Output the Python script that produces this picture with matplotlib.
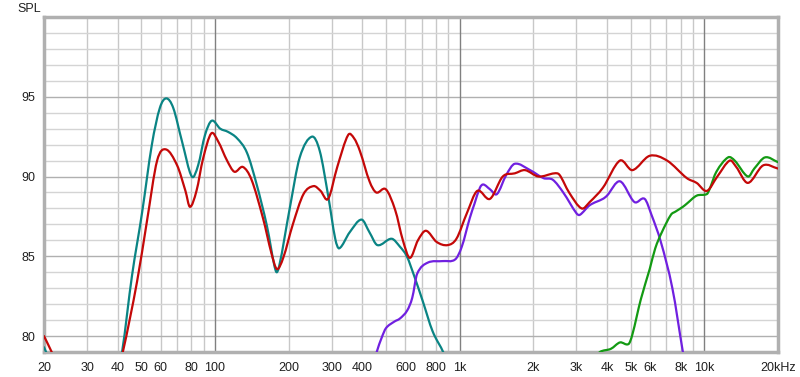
import matplotlib
matplotlib.use("Agg")
import numpy as np
import matplotlib.pyplot as plt
from matplotlib.path import Path
from matplotlib.patches import PathPatch

# ── DATA ────────────────────────────────────────────────────────────────
teal_f = [20, 21, 23, 40, 41.7, 45.8, 50.3, 55.2, 59.5, 63.2, 67.5, 73.3, 80.4, 85.3, 91, 97,
          105, 113, 123, 135, 148, 163, 177, 183, 202, 222, 249, 268, 290, 310, 322, 355,
          397, 428, 461, 527, 570, 608, 654, 706, 775, 862, 900]
teal_db = [79.3, 78.6, 78.0, 78.0, 79.0, 83.8, 87.7, 92.0, 94.3, 94.9, 94.3, 92.2, 90.0, 90.7, 92.6, 93.5,
           93.0, 92.8, 92.4, 91.5, 89.5, 86.9, 84.1, 84.4, 88.0, 91.2, 92.5, 91.6, 88.8, 86.1, 85.5, 86.5,
           87.3, 86.5, 85.7, 86.1, 85.6, 85.0, 83.7, 82.2, 80.3, 78.9, 78.0]

red_f = [20, 21.5, 23, 40, 42, 48, 52.7, 58, 63, 70, 75.7, 79, 84, 89.3, 96.5, 103, 112, 120, 130,
         141, 157, 170, 179, 190, 208, 230, 253, 270, 290, 316, 350, 370, 391, 428, 456, 499, 545,
         586, 626, 675, 728, 805, 892, 970, 1070, 1180, 1330, 1500, 1680, 1850, 2100, 2440, 2560,
         2800, 3150, 3400, 3850, 4520, 5080, 5980, 7040, 8480, 9300, 10240, 11300, 12700, 13500,
         15060, 17400, 20000]
red_db = [80.0, 79.0, 78.0, 78.0, 79.0, 83.4, 87.2, 91.0, 91.7, 90.7, 89.1, 88.1, 89.1, 91.1, 92.7, 92.2,
          91.0, 90.3, 90.6, 89.8, 87.4, 85.2, 84.2, 84.9, 87.0, 88.9, 89.4, 89.1, 88.6, 90.6, 92.6,
          92.4, 91.6, 89.7, 89.0, 89.2, 87.9, 86.0, 84.9, 86.0, 86.6, 85.9, 85.7, 86.1, 87.7, 89.1,
          88.6, 90.0, 90.2, 90.4, 90.0, 90.2, 90.1, 89.0, 88.0, 88.4, 89.3, 91.0, 90.4, 91.3, 91.0,
          89.9, 89.6, 89.1, 90.0, 91.0, 90.6, 89.6, 90.7, 90.5]

purple_f = [440, 458, 480, 500, 540, 570, 610, 640, 670, 740, 855, 958, 1020, 1100, 1150, 1210, 1250,
            1330, 1420, 1550, 1680, 1940, 2200, 2400, 2650, 3000, 3100, 3400, 3850, 4000, 4520,
            5180, 5700, 6080, 6640, 7400, 8170, 8400]
purple_db = [78.0, 79.0, 79.9, 80.5, 80.9, 81.1, 81.6, 82.4, 83.9, 84.6, 84.7, 84.8, 85.6, 87.4, 88.3,
             89.3, 89.5, 89.2, 88.9, 90.1, 90.8, 90.4, 89.9, 89.8, 89.0, 87.7, 87.6, 88.2, 88.6,
             88.8, 89.7, 88.4, 88.6, 87.6, 85.9, 83.0, 79.0, 78.0]

green_f = [3600, 3740, 4150, 4520, 4900, 5080, 5500, 5980, 6300, 6700, 7300, 7620, 8170, 8480, 9300,
           10240, 10500, 11200, 12500, 13300, 15060, 16000, 17700, 20000]
green_db = [78.6, 79.0, 79.2, 79.6, 79.5, 80.1, 82.3, 84.2, 85.5, 86.5, 87.6, 87.8, 88.1, 88.3, 88.8,
            88.9, 89.2, 90.3, 91.2, 91.0, 90.0, 90.5, 91.2, 90.9]

xticks = [20, 30, 40, 50, 60, 80, 100, 200, 300, 400, 600, 800, 1000, 2000, 3000, 4000, 5000,
          6000, 8000, 10000, 20000]
xlabels = ["20", "30", "40", "50", "60", "80", "100", "200", "300", "400", "600", "800", "1k",
           "2k", "3k", "4k", "5k", "6k", "8k", "10k", "20kHz"]
yticks = [80, 85, 90, 95]


def smooth_path(freqs, levels):
    """Cubic Hermite bezier through the read points, built in log-frequency space."""
    x = np.log10(np.asarray(freqs, float))
    y = np.asarray(levels, float)
    m = np.empty_like(y)
    m[1:-1] = (y[2:] - y[:-2]) / (x[2:] - x[:-2])
    m[0] = (y[1] - y[0]) / (x[1] - x[0])
    m[-1] = (y[-1] - y[-2]) / (x[-1] - x[-2])
    verts = [(x[0], y[0])]
    codes = [Path.MOVETO]
    for i in range(len(x) - 1):
        h = (x[i + 1] - x[i]) / 3
        verts += [(x[i] + h, y[i] + m[i] * h), (x[i + 1] - h, y[i + 1] - m[i + 1] * h),
                  (x[i + 1], y[i + 1])]
        codes += [Path.CURVE4] * 3
    verts = np.array(verts)
    verts[:, 0] = 10 ** verts[:, 0]
    return Path(verts, codes)


# ── FIGURE ──────────────────────────────────────────────────────────────
plt.rcParams["font.family"] = ["Liberation Sans", "DejaVu Sans"]
fig = plt.figure(figsize=(8.0, 3.77), dpi=100)
ax = fig.add_axes([44 / 800, 25 / 377, 734 / 800, 335 / 377])
ax.set_xscale("log")
ax.set_xlim(20, 20000)
ax.set_ylim(79, 100)

# grid: light lines every sub-decade step and every dB, darker at decades
for dec in [10, 100, 1000, 10000]:
    for k in range(2, 10):
        f = dec * k
        if 20 < f < 20000:
            ax.axvline(f, color="#c8c8c8", lw=1.0, zorder=0)
for f in [100, 1000, 10000]:
    ax.axvline(f, color="#808080", lw=1.0, zorder=0.5)
for y in range(80, 100):
    ax.axhline(y, color="#b0b0b0" if y % 5 == 0 else "#d4d4d4", lw=1.0, zorder=0)

lw = 1.6
curves = [
    (teal_f, teal_db, "#0a8484", 3),
    (purple_f, purple_db, "#7020e0", 3),
    (green_f, green_db, "#139a13", 3),
    (red_f, red_db, "#c40808", 4),
]
for fx, dbs, col, z in curves:
    ax.add_patch(PathPatch(smooth_path(fx, dbs), fill=False, edgecolor=col, lw=lw,
                           zorder=z, capstyle="round", joinstyle="round"))

ax.set_xticks(xticks)
ax.set_xticklabels(xlabels)
ax.xaxis.set_minor_locator(matplotlib.ticker.NullLocator())
ax.set_yticks(yticks)
ax.tick_params(length=0, labelsize=9, colors="#202020", pad=7)
ax.tick_params(axis="y", pad=6)

for s in ax.spines.values():
    s.set_color("#b0b0b0")
    s.set_linewidth(2.5)

fig.text(17 / 800, 1 - 9 / 377, "SPL", fontsize=9, color="#202020", va="center", ha="left")

fig.savefig("out.png", dpi=100)
